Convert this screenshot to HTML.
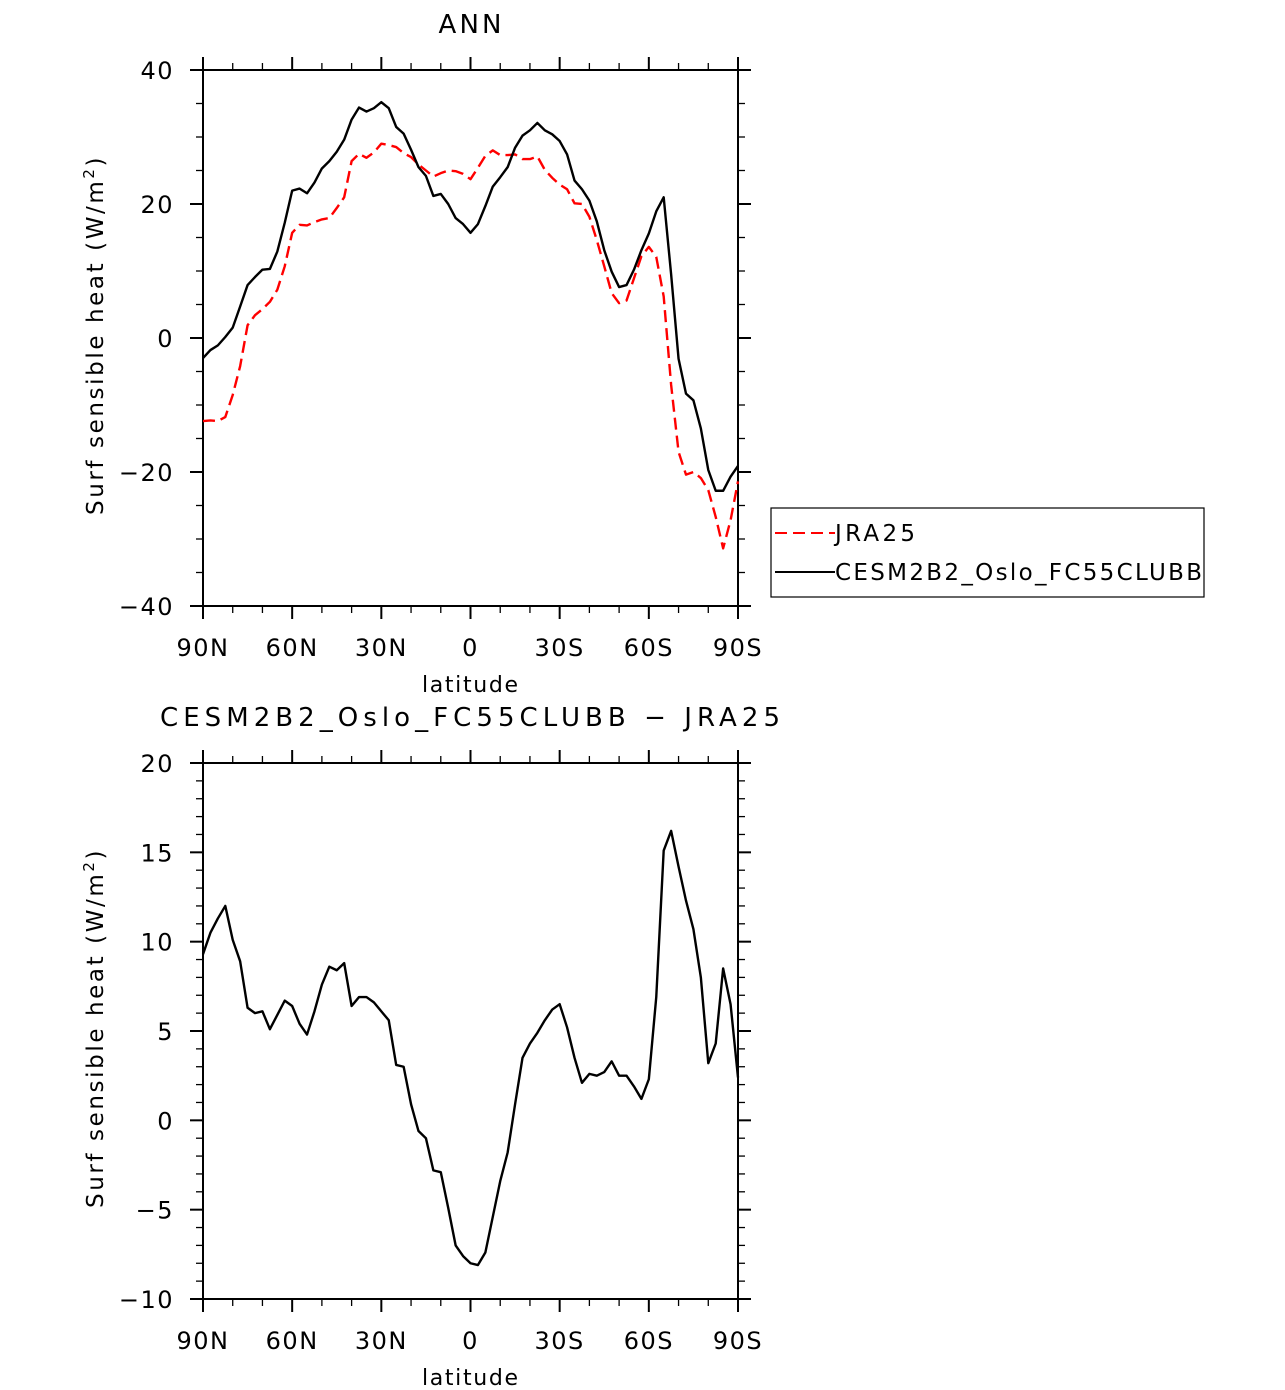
<!DOCTYPE html>
<html><head><meta charset="utf-8"><style>
body{margin:0;background:#fff;}
svg{display:block;font-family:"DejaVu Sans","Liberation Sans",sans-serif;}
</style></head><body>
<svg id="chart" width="1285" height="1390" viewBox="0 0 1285 1390" xmlns="http://www.w3.org/2000/svg"></svg>
<script>
const latLabels = ["90N","60N","30N","0","30S","60S","90S"];
const cesm = [-3.0,-1.8,-1.1,0.15,1.55,4.7,7.9,9.1,10.2,10.3,12.9,17.2,22.0,22.3,21.6,23.2,25.3,26.4,27.8,29.6,32.6,34.4,33.8,34.3,35.2,34.3,31.5,30.5,28.1,25.5,24.2,21.2,21.5,20.0,17.9,17.0,15.7,17.0,19.7,22.6,24.0,25.5,28.4,30.2,31.0,32.1,31.0,30.4,29.4,27.4,23.5,22.2,20.5,17.4,13.1,9.9,7.6,7.9,10.2,13.1,15.6,18.9,21.0,9.5,-3.1,-8.3,-9.3,-13.5,-19.7,-22.8,-22.8,-20.7,-19.1];
const jra = [-12.4,-12.3,-12.4,-11.8,-8.5,-4.2,1.9,3.4,4.3,5.4,7.2,10.7,15.7,16.9,16.8,17.3,17.7,17.9,19.4,21.0,26.4,27.5,26.9,27.7,29.0,28.8,28.5,27.6,27.0,25.9,25.0,24.1,24.6,25.0,24.9,24.5,23.7,25.4,27.2,28.0,27.3,27.3,27.4,26.7,26.7,27.1,25.1,23.9,22.9,22.2,20.1,20.0,18.1,14.6,10.7,6.7,5.2,5.6,8.9,12.2,13.6,12.1,6.2,-7.0,-17.0,-20.4,-20.0,-20.9,-22.7,-26.7,-31.4,-27.2,-21.4];
const diff = [9.3,10.5,11.3,12.0,10.1,8.9,6.3,6.0,6.1,5.1,5.9,6.7,6.4,5.4,4.8,6.1,7.6,8.6,8.4,8.8,6.4,6.9,6.9,6.6,6.1,5.6,3.1,3.0,0.9,-0.6,-1.0,-2.8,-2.9,-4.9,-7.0,-7.6,-8.0,-8.1,-7.4,-5.4,-3.4,-1.8,0.9,3.5,4.3,4.9,5.6,6.2,6.5,5.2,3.5,2.1,2.6,2.5,2.7,3.3,2.5,2.5,1.9,1.2,2.3,6.9,15.1,16.2,14.2,12.3,10.7,8.0,3.2,4.3,8.5,6.5,2.4];
const ticks1 = [40,20,0,-20,-40];
const ticks2 = [20,15,10,5,0,-5,-10];

const NS="http://www.w3.org/2000/svg";
const svg=document.getElementById('chart');
function mk(tag,attrs,parent){const e=document.createElementNS(NS,tag);for(const k in attrs)e.setAttribute(k,attrs[k]);(parent||svg).appendChild(e);return e;}
const X0=203,X1=738;
function xs(i,n){return X0+i*(X1-X0)/(n-1);}
function xlat(lat){return X0+(90-lat)/180*(X1-X0);}

function panel(name,top,bot,ymin,ymax,majorStep,minorStep,tickVals,series,title,titleLen){
  const g=mk('g',{});
  
  
  const ys=v=>bot-(v-ymin)/(ymax-ymin)*(bot-top);
  const fr=mk('rect',{x:X0,y:top,width:X1-X0,height:bot-top,fill:'none',stroke:'#000','stroke-width':2},g);
  
  
  for(let v=ymin;v<=ymax+1e-9;v+=minorStep){
    const maj=Math.abs(v/majorStep-Math.round(v/majorStep))<1e-6;
    const L=maj?13:7,y=ys(v);
    mk('line',{x1:X0-L,y1:y,x2:X0,y2:y,stroke:'#000','stroke-width':maj?2:1.3},g);
    mk('line',{x1:X1,y1:y,x2:X1+L,y2:y,stroke:'#000','stroke-width':maj?2:1.3},g);
  }
  tickVals.forEach(v=>{
    const s=(v<0?'\u2212'+(-v):''+v);
    const t=mk('text',{x:174,y:ys(v)+9,'text-anchor':'end','font-size':24,'letter-spacing':1.5},g);
    t.textContent=s;
    
    
  });
  for(let lat=90;lat>=-90;lat-=10){
    const maj=lat%30===0,L=maj?13:7,x=xlat(lat);
    mk('line',{x1:x,y1:top-L,x2:x,y2:top,stroke:'#000','stroke-width':maj?2:1.3},g);
    mk('line',{x1:x,y1:bot,x2:x,y2:bot+L,stroke:'#000','stroke-width':maj?2:1.3},g);
  }
  latLabels.forEach((s,k)=>{
    const t=mk('text',{x:xs(k,7),y:bot+50,'text-anchor':'middle','font-size':24,'letter-spacing':1.5},g);
    t.textContent=s;
    
    
  });
  const xt=mk('text',{x:422,y:bot+86,'font-size':22,textLength:96,lengthAdjust:'spacing'},g);
  xt.textContent='latitude';
  
  
  const mid=(top+bot)/2;
  const yt=mk('text',{transform:`translate(103,${mid+177}) rotate(-90)`,'font-size':23,'letter-spacing':2.6},g);
  yt.innerHTML='Surf sensible heat (W/m<tspan dy="-9" font-size="15">2</tspan><tspan dy="9">)</tspan>';
  
  
  const tt=mk('text',{x:470-titleLen/2,y:top-37,'font-size':26,textLength:titleLen,lengthAdjust:'spacing'},g);
  tt.textContent=title;
  
  
  series.forEach(s=>{
    const d=s.vals.map((v,i)=>(i?'L':'M')+xs(i,s.vals.length).toFixed(2)+','+ys(v).toFixed(2)).join(' ');
    const p=mk('path',{d:d,fill:'none',stroke:s.color,'stroke-width':2.4,'stroke-dasharray':s.dash||'none','stroke-linejoin':'round'},g);
    
    
  });
}
panel('top-panel',70,606,-40,40,20,5,ticks1,[{vals:jra,color:'#ff0000',dash:'12,6',name:'jra25-line'},{vals:cesm,color:'#000',name:'cesm-line'}],'ANN',63);
panel('bottom-panel',763,1299,-10,20,5,1,ticks2,[{vals:diff,color:'#000',name:'difference-line'}],'CESM2B2_Oslo_FC55CLUBB \u2212 JRA25',620);

const lg=mk('g',{});


mk('rect',{x:771,y:508,width:433,height:89,fill:'#fff',stroke:'#000','stroke-width':1.2},lg);
mk('line',{x1:775,y1:533,x2:835,y2:533,stroke:'#ff0000','stroke-width':2,'stroke-dasharray':'12,6'},lg);
mk('line',{x1:775,y1:572,x2:835,y2:572,stroke:'#000','stroke-width':2},lg);
const l1=mk('text',{x:835,y:541,'font-size':23,textLength:80,lengthAdjust:'spacing'},lg);l1.textContent='JRA25';


const l2=mk('text',{x:835,y:580,'font-size':23,textLength:367,lengthAdjust:'spacing'},lg);l2.textContent='CESM2B2_Oslo_FC55CLUBB';


</script>
</body></html>
